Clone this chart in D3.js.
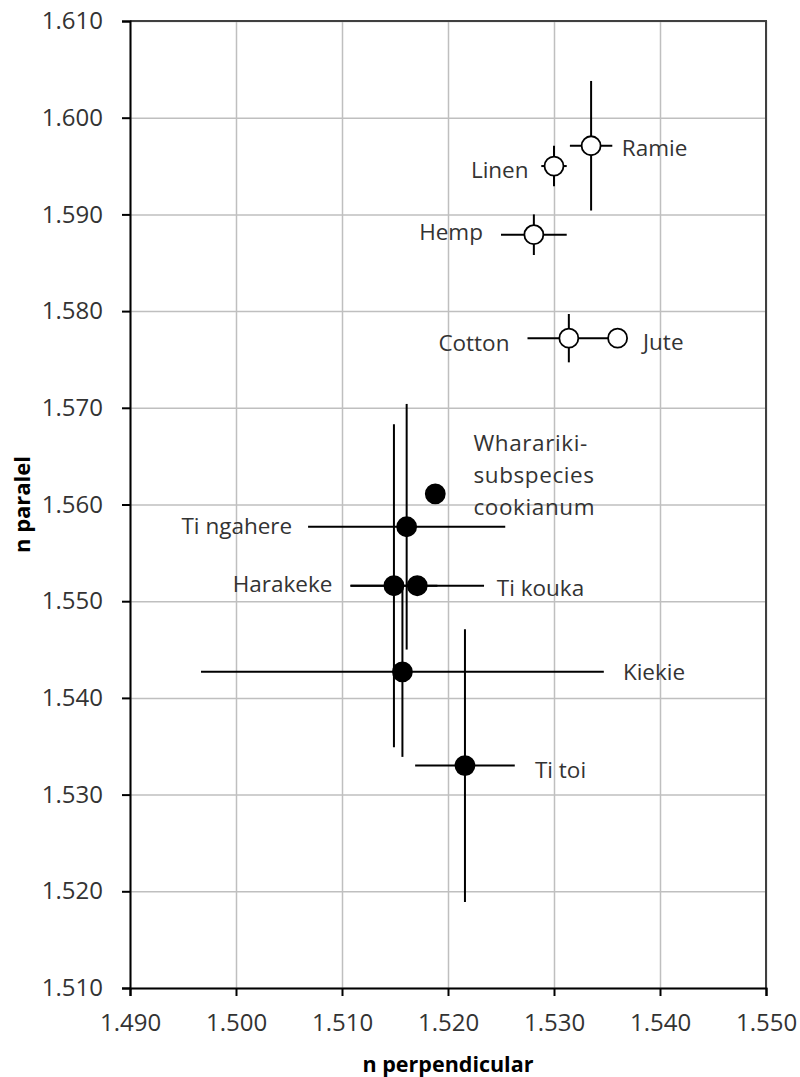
<!DOCTYPE html>
<html>
<head>
<meta charset="utf-8">
<script src="https://cdn.jsdelivr.net/npm/d3@7"></script>
<style>
  body { margin: 0; background: #fff; }
  text { font-family: "Open Sans", "DejaVu Sans", sans-serif; fill: #333; }
  .grid line { stroke: #bfbfbf; stroke-width: 1.5; }
  .axis-title { font-weight: bold; fill: #000; }
</style>
</head>
<body>
<div id="chart"></div>
<script>
// fibre samples: refractive index perpendicular / parallel to fibre axis
var names   = ["Ramie", "Linen", "Hemp", "Cotton", "Jute",
               "Wharariki-\nsubspecies\ncookianum", "Ti ngahere", "Harakeke", "Ti kouka", "Kiekie", "Ti toi"];
var filled  = [false, false, false, false, false, true, true, true, true, true, true];
var nPerp   = [1.5335, 1.5300, 1.5281, 1.5314, 1.5360, 1.5188, 1.5161, 1.5149, 1.5171, 1.5157, 1.5216];
var nPar    = [1.5971, 1.5950, 1.5879, 1.5772, 1.5772, 1.5611, 1.5577, 1.5516, 1.5516, 1.5427, 1.5330];
var errPerp = [0.0020, 0.0012, 0.0031, 0.0039, 0, 0, 0.0093, 0.0041, 0.0063, 0.0190, 0.0047];
var errPar  = [0.0067, 0.0021, 0.0021, 0.0025, 0, 0, 0.0127, 0.0167, 0, 0.0088, 0.0141];
// label anchor points, in data units
var labelX  = [1.5364, 1.5276, 1.5233, 1.5258, 1.5384, 1.5224, 1.5053, 1.5091, 1.5246, 1.5365, 1.5282];
var labelY  = [1.5969, 1.5946, 1.5882, 1.5767, 1.5768, 1.5663, 1.5578, 1.5518, 1.5514, 1.5427, 1.5325];
var labelEnd = [false, true, true, true, false, false, true, true, false, false, false];

var xTicks = [1.490, 1.500, 1.510, 1.520, 1.530, 1.540, 1.550];
var yTicks = [1.510, 1.520, 1.530, 1.540, 1.550, 1.560, 1.570, 1.580, 1.590, 1.600, 1.610];
var xTitle = "n perpendicular";
var yTitle = "n paralel";

var width = 800, height = 1077;
var margin = { top: 21, right: 34, bottom: 89, left: 130 };
var w = width - margin.left - margin.right,
    h = height - margin.top - margin.bottom;

var svg = d3.select("#chart").append("svg")
    .attr("width", width)
    .attr("height", height)
    .style("background", "#fff");

var g = svg.append("g")
    .attr("transform", "translate(" + margin.left + "," + margin.top + ")");

var x = d3.scaleLinear().domain([1.490, 1.550]).range([0, w]);
var y = d3.scaleLinear().domain([1.510, 1.610]).range([h, 0]);
var fmt = d3.format(".3f");

// gridlines
g.append("g").attr("class", "grid")
    .call(d3.axisBottom(x).tickValues(xTicks).tickSize(h).tickFormat(""))
    .call(function(s) { s.select(".domain").remove(); });
g.append("g").attr("class", "grid")
    .call(d3.axisLeft(y).tickValues(yTicks).tickSize(-w).tickFormat(""))
    .call(function(s) { s.select(".domain").remove(); });

// frame top/right
g.append("path")
    .attr("d", "M0,0H" + w + "V" + h)
    .attr("fill", "none")
    .attr("stroke", "#404040")
    .attr("stroke-width", 2);

// axes
var xAxis = g.append("g")
    .attr("transform", "translate(0," + h + ")")
    .call(d3.axisBottom(x).tickValues(xTicks).tickFormat(fmt).tickSize(8).tickPadding(18));
var yAxis = g.append("g")
    .call(d3.axisLeft(y).tickValues(yTicks).tickFormat(fmt).tickSize(8).tickPadding(19));

[xAxis, yAxis].forEach(function(a) {
    a.select(".domain").attr("stroke", "#000").attr("stroke-width", 2);
    a.selectAll(".tick line").attr("stroke", "#000").attr("stroke-width", 2);
    a.selectAll(".tick text")
        .style("font-family", "'Open Sans', sans-serif")
        .style("font-size", "24px")
        .style("fill", "#333");
});

// axis titles
g.append("text")
    .attr("class", "axis-title")
    .attr("x", w / 2)
    .attr("y", h + 76)
    .attr("dy", "0.35em")
    .attr("text-anchor", "middle")
    .style("font-size", "21.5px")
    .text(xTitle);

g.append("text")
    .attr("class", "axis-title")
    .attr("transform", "translate(" + (22 - margin.left) + "," + (h / 2) + ") rotate(-90)")
    .attr("dy", "0.35em")
    .attr("text-anchor", "middle")
    .style("font-size", "22px")
    .text(yTitle);

var pts = d3.range(names.length);

// error bars
var bars = g.append("g").attr("class", "errorbars")
    .attr("stroke", "#000")
    .attr("stroke-width", 2);

bars.selectAll("line.h")
    .data(pts.filter(function(i) { return errPerp[i] > 0; }))
    .enter().append("line")
    .attr("class", "h")
    .attr("x1", function(i) { return x(nPerp[i] - errPerp[i]); })
    .attr("x2", function(i) { return x(nPerp[i] + errPerp[i]); })
    .attr("y1", function(i) { return y(nPar[i]); })
    .attr("y2", function(i) { return y(nPar[i]); });

bars.selectAll("line.v")
    .data(pts.filter(function(i) { return errPar[i] > 0; }))
    .enter().append("line")
    .attr("class", "v")
    .attr("x1", function(i) { return x(nPerp[i]); })
    .attr("x2", function(i) { return x(nPerp[i]); })
    .attr("y1", function(i) { return y(nPar[i] - errPar[i]); })
    .attr("y2", function(i) { return y(nPar[i] + errPar[i]); });

// markers
g.append("g").selectAll("circle")
    .data(pts)
    .enter().append("circle")
    .attr("cx", function(i) { return x(nPerp[i]); })
    .attr("cy", function(i) { return y(nPar[i]); })
    .attr("r", 9.5)
    .attr("fill", function(i) { return filled[i] ? "#000" : "#fff"; })
    .attr("stroke", "#000")
    .attr("stroke-width", 1.8);

// data labels
var labels = g.append("g").selectAll("text")
    .data(pts)
    .enter().append("text")
    .attr("x", function(i) { return x(labelX[i]); })
    .attr("y", function(i) { return y(labelY[i]); })
    .attr("text-anchor", function(i) { return labelEnd[i] ? "end" : "start"; })
    .style("font-size", "22.5px")
    .style("letter-spacing", function(i) { return names[i].indexOf("\n") >= 0 ? "0.6px" : null; })
    .style("fill", "#333");

labels.each(function(i) {
    var t = d3.select(this);
    names[i].split("\n").forEach(function(line, k) {
        t.append("tspan")
            .attr("x", x(labelX[i]))
            .attr("dy", k === 0 ? "0.35em" : "32px")
            .text(line);
    });
});
</script>
</body>
</html>
